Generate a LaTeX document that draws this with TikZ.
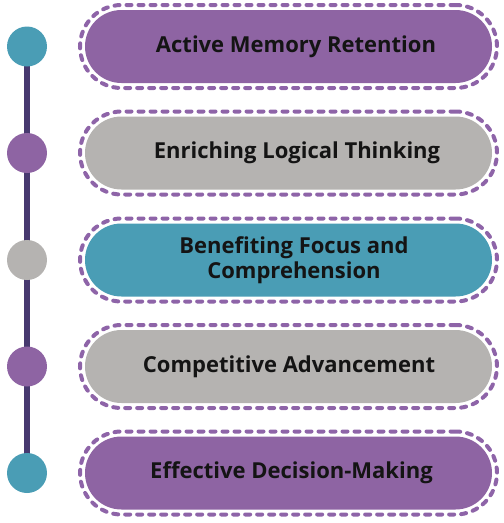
\documentclass[tikz,border=0pt]{standalone}
\usepackage{fontspec}
\setmainfont{Open Sans}[BoldFont={* Bold}]
\definecolor{cpurple}{HTML}{8E64A3}
\definecolor{cteal}{HTML}{4A9DB5}
\definecolor{cgray}{HTML}{B5B3B1}
\definecolor{cdash}{HTML}{8E64A8}
\definecolor{cline}{HTML}{47396F}
\begin{document}
\begin{tikzpicture}[x=1pt,y=-1pt,
  pill/.style={rounded corners=36.5pt, minimum width=407pt, minimum height=73pt, inner sep=0pt},
  outerpill/.style={draw=cdash, line width=4pt, dash pattern=on 5pt off 7pt, line cap=round,
     rounded corners=41.5pt, minimum width=417pt, minimum height=83pt, inner sep=0pt},
  lbl/.style={font=\fontsize{22}{25}\selectfont\bfseries, text=black!92, align=center},
  dot/.style={circle, minimum size=40pt, inner sep=0pt}]
\useasboundingbox (0,0) rectangle (504,523);
\foreach \i/\y/\fc in {1/46.5/cpurple, 2/153/cgray, 3/260/cteal, 4/366.5/cgray, 5/473/cpurple}{
  \node[outerpill] (o\i) at (288.5,\y) {};
  \node[pill, fill=\fc] (p\i) at (288.5,\y) {};
  \coordinate (c\i) at (27,\y);
}
\draw[cline, line width=6pt] (c1) -- (c5);
\foreach \i/\cc in {1/cteal, 2/cpurple, 3/cgray, 4/cpurple, 5/cteal}{
  \node[dot, fill=\cc] (d\i) at (c\i) {};
}
\node[lbl] (t1) at (296,46.5) {Active Memory Retention};
\node[lbl] (t2) at (297,153) {Enriching Logical Thinking};
\node[lbl] (t3) at (294,260) {Benefiting Focus and\\Comprehension};
\node[lbl] (t4) at (289,366.5) {Competitive Advancement};
\node[lbl] (t5) at (291.5,473) {Effective Decision-Making};
\end{tikzpicture}
\end{document}
